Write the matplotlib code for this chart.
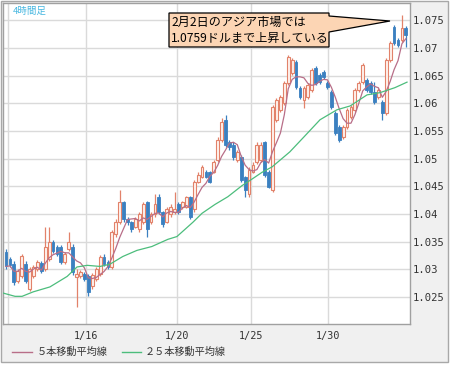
import matplotlib
matplotlib.use('Agg')
import matplotlib.pyplot as plt
import numpy as np
import pandas as pd
from matplotlib.patches import Rectangle, Polygon
from matplotlib.lines import Line2D

# ---------------- data (EUR/USD 4h candles) ----------------
opens = [1.0331, 1.0318, 1.0309, 1.0278, 1.0287, 1.0309, 1.0264, 1.0287, 1.0300, 1.0311,
         1.0300, 1.0318, 1.0349, 1.0340, 1.0340, 1.0313, 1.0336, 1.0341, 1.0286, 1.0287,
         1.0291, 1.0287, 1.0269, 1.0282, 1.0291, 1.0322, 1.0313, 1.0304, 1.0363, 1.0385,
         1.0421, 1.0390, 1.0385, 1.0377, 1.0372, 1.0385, 1.0421, 1.0385, 1.0399, 1.0431,
         1.0403, 1.0386, 1.0399, 1.0403, 1.0417, 1.0412, 1.0413, 1.0430, 1.0408, 1.0458,
         1.0467, 1.0476, 1.0475, 1.0476, 1.0498, 1.0534, 1.0570, 1.0530, 1.0525, 1.0498,
         1.0503, 1.0466, 1.0435, 1.0476, 1.0494, 1.0498, 1.0529, 1.0476, 1.0444, 1.0570,
         1.0588, 1.0601, 1.0637, 1.0655, 1.0674, 1.0628, 1.0606, 1.0611, 1.0624, 1.0664,
         1.0651, 1.0656, 1.0637, 1.0620, 1.0583, 1.0557, 1.0539, 1.0557, 1.0575, 1.0588,
         1.0624, 1.0638, 1.0642, 1.0637, 1.0620, 1.0611, 1.0602, 1.0583, 1.0678, 1.0737,
         1.0714, 1.0714, 1.0736]
highs = [1.0336, 1.0322, 1.0314, 1.0300, 1.0327, 1.0314, 1.0304, 1.0307, 1.0316, 1.0314,
         1.0376, 1.0376, 1.0352, 1.0343, 1.0343, 1.0331, 1.0367, 1.0345, 1.0300, 1.0298,
         1.0295, 1.0291, 1.0293, 1.0304, 1.0325, 1.0327, 1.0316, 1.0370, 1.0390, 1.0444,
         1.0424, 1.0394, 1.0388, 1.0394, 1.0403, 1.0421, 1.0424, 1.0403, 1.0435, 1.0435,
         1.0406, 1.0412, 1.0417, 1.0439, 1.0421, 1.0424, 1.0433, 1.0433, 1.0462, 1.0475,
         1.0489, 1.0480, 1.0478, 1.0498, 1.0538, 1.0574, 1.0579, 1.0534, 1.0529, 1.0516,
         1.0507, 1.0469, 1.0484, 1.0493, 1.0529, 1.0529, 1.0532, 1.0480, 1.0597, 1.0610,
         1.0615, 1.0640, 1.0687, 1.0682, 1.0678, 1.0631, 1.0631, 1.0637, 1.0664, 1.0667,
         1.0655, 1.0660, 1.0640, 1.0624, 1.0586, 1.0561, 1.0561, 1.0592, 1.0597, 1.0628,
         1.0640, 1.0673, 1.0646, 1.0640, 1.0638, 1.0628, 1.0606, 1.0682, 1.0712, 1.0741,
         1.0718, 1.0759, 1.0739]
lows = [1.0300, 1.0304, 1.0271, 1.0275, 1.0284, 1.0275, 1.0260, 1.0284, 1.0296, 1.0293,
        1.0296, 1.0314, 1.0329, 1.0323, 1.0309, 1.0309, 1.0332, 1.0289, 1.0232, 1.0284,
        1.0278, 1.0251, 1.0264, 1.0278, 1.0287, 1.0305, 1.0300, 1.0300, 1.0359, 1.0381,
        1.0386, 1.0379, 1.0367, 1.0374, 1.0368, 1.0381, 1.0358, 1.0381, 1.0395, 1.0399,
        1.0377, 1.0383, 1.0395, 1.0399, 1.0399, 1.0408, 1.0410, 1.0390, 1.0404, 1.0455,
        1.0464, 1.0464, 1.0455, 1.0473, 1.0494, 1.0530, 1.0521, 1.0516, 1.0498, 1.0494,
        1.0458, 1.0430, 1.0431, 1.0473, 1.0491, 1.0494, 1.0467, 1.0446, 1.0440, 1.0566,
        1.0584, 1.0597, 1.0633, 1.0651, 1.0626, 1.0608, 1.0592, 1.0608, 1.0620, 1.0633,
        1.0635, 1.0644, 1.0626, 1.0590, 1.0543, 1.0529, 1.0536, 1.0554, 1.0572, 1.0584,
        1.0620, 1.0635, 1.0620, 1.0617, 1.0599, 1.0608, 1.0570, 1.0579, 1.0674, 1.0705,
        1.0701, 1.0710, 1.0701]
closes = [1.0305, 1.0307, 1.0277, 1.0296, 1.0323, 1.0278, 1.0300, 1.0304, 1.0313, 1.0296,
          1.0341, 1.0349, 1.0332, 1.0327, 1.0313, 1.0327, 1.0349, 1.0295, 1.0291, 1.0295,
          1.0282, 1.0259, 1.0289, 1.0300, 1.0322, 1.0309, 1.0304, 1.0367, 1.0386, 1.0421,
          1.0390, 1.0385, 1.0372, 1.0390, 1.0399, 1.0417, 1.0372, 1.0399, 1.0417, 1.0403,
          1.0381, 1.0408, 1.0413, 1.0408, 1.0403, 1.0421, 1.0430, 1.0395, 1.0458, 1.0471,
          1.0485, 1.0467, 1.0458, 1.0494, 1.0534, 1.0566, 1.0525, 1.0520, 1.0502, 1.0512,
          1.0462, 1.0444, 1.0480, 1.0489, 1.0525, 1.0525, 1.0471, 1.0449, 1.0593, 1.0606,
          1.0611, 1.0637, 1.0683, 1.0678, 1.0629, 1.0611, 1.0628, 1.0633, 1.0660, 1.0637,
          1.0638, 1.0647, 1.0629, 1.0593, 1.0547, 1.0534, 1.0557, 1.0588, 1.0593, 1.0624,
          1.0637, 1.0669, 1.0624, 1.0620, 1.0602, 1.0624, 1.0583, 1.0678, 1.0709, 1.0709,
          1.0705, 1.0736, 1.0723]

# 25-period moving average (candle index, value)
ma25_pos = [-0.8, 2.3, 4.1, 6.9, 11.2, 15.6, 18.1, 20.7, 24.0, 26.5, 29.8, 33.4, 37.2,
            41.3, 43.6, 47.7, 50.0, 53.3, 56.6, 60.2, 63.0, 65.3, 67.9, 72.4, 76.0,
            80.1, 84.4, 87.8, 92.1, 95.4, 99.2, 102.3]
ma25_val = [1.0257, 1.0251, 1.0251, 1.0259, 1.0268, 1.0287, 1.0304, 1.0307, 1.0305,
            1.0309, 1.0323, 1.0334, 1.0341, 1.0354, 1.0359, 1.0385, 1.0401, 1.0417,
            1.0431, 1.0451, 1.0464, 1.0475, 1.0485, 1.0512, 1.0539, 1.0570, 1.0588,
            1.0595, 1.0615, 1.0619, 1.0628, 1.0638]

xtick_pos = [0.51, 20.4, 43.6, 62.5, 82.1]
xtick_labels = ['', '1/16', '1/20', '1/25', '1/30']
ytick_vals = [1.025, 1.03, 1.035, 1.04, 1.045, 1.05, 1.055, 1.06, 1.065, 1.07, 1.075]
ytick_labels = ['1.025', '1.03', '1.035', '1.04', '1.045', '1.05', '1.055',
                '1.06', '1.065', '1.07', '1.075']

title_text = '4時間足'
note_lines = ['2月2日のアジア市場では', '1.0759ドルまで上昇している']
legend_labels = ['５本移動平均線', '２５本移動平均線']

# ---------------- styling ----------------
JP = ['Noto Sans CJK JP', 'DejaVu Sans']
UP = '#e2826a'
DOWN = '#3b80c0'
MA5C = '#b86e88'
MA25C = '#4cbd7c'
W, H = 454, 369

fig = plt.figure(figsize=(W / 100, H / 100), dpi=100)
fig.patch.set_facecolor('white')

def fx(x):
    return x / W

def fy(y):
    return 1 - y / H

panel = Rectangle((fx(1), fy(362)), fx(447), 361 / H, transform=fig.transFigure,
                  facecolor='#f0f0f0', edgecolor='#a8a8a8', linewidth=1.0, zorder=-5)
fig.add_artist(panel)

ax = fig.add_axes([fx(3), fy(324), 407 / W, 321 / H])
ax.set_facecolor('white')
ax.set_xlim(-0.77, 103.06)
ax.set_ylim(1.0201, 1.0781)

# grid
for v in ytick_vals:
    ax.axhline(v, color='#dadada', lw=1.0, zorder=0)
for p in xtick_pos:
    ax.axvline(p, color='#dadada', lw=1.0, zorder=0)

idx = np.arange(len(closes))
o = np.array(opens); h = np.array(highs); l = np.array(lows); c = np.array(closes)
up = c >= o
bw = 0.72

# wicks
ax.vlines(idx[up], l[up], h[up], color=UP, lw=0.9, zorder=2)
ax.vlines(idx[~up], l[~up], h[~up], color=DOWN, lw=0.9, zorder=2)
# bodies
ax.bar(idx[up], np.maximum(c[up] - o[up], 0.00005), bottom=o[up], width=bw,
       facecolor='#fff3ee', edgecolor=UP, linewidth=0.8, zorder=3)
ax.bar(idx[~up], np.maximum(o[~up] - c[~up], 0.00005), bottom=c[~up], width=bw,
       facecolor=DOWN, edgecolor=DOWN, linewidth=0.6, zorder=3)

# moving averages
ma5 = pd.Series(closes).rolling(5, min_periods=1).mean()
ax.plot(idx, ma5, color=MA5C, lw=0.9, zorder=4)
ax.plot(ma25_pos, ma25_val, color=MA25C, lw=0.9, zorder=4)

# axes style
for s in ax.spines.values():
    s.set_color('#a0a0a0')
    s.set_linewidth(1.0)
ax.yaxis.tick_right()
ax.set_yticks(ytick_vals)
ax.set_yticklabels(ytick_labels, family='DejaVu Sans Mono', fontsize=7.6, color='#333333')
ax.set_xticks(xtick_pos)
ax.set_xticklabels(xtick_labels, family='DejaVu Sans Mono', fontsize=7.3, color='#333333')
ax.tick_params(axis='y', length=0, pad=2)
ax.tick_params(axis='x', length=0, pad=5)

# title inside the plot
fig.text(fx(13), fy(11), title_text, family=JP, fontsize=6.8, color='#45b6e0',
         va='center', ha='left')

# callout box
callout = Polygon([(fx(169), fy(13)), (fx(329), fy(13)), (fx(329), fy(16)),
                   (fx(390), fy(21)), (fx(329), fy(32)), (fx(329), fy(47)),
                   (fx(169), fy(47))], closed=True, transform=fig.transFigure,
                  facecolor='#fcd5b4', edgecolor='black', linewidth=0.9, zorder=10)
fig.add_artist(callout)
fig.text(fx(171), fy(22.5), note_lines[0], family=JP, fontsize=8.7, color='black',
         va='center', ha='left', zorder=11)
fig.text(fx(171), fy(38.5), note_lines[1], family=JP, fontsize=8.7, color='black',
         va='center', ha='left', zorder=11)

# legend
fig.add_artist(Line2D([fx(12), fx(32)], [fy(352), fy(352)], color=MA5C, lw=1.0,
                      transform=fig.transFigure))
fig.text(fx(37), fy(352), legend_labels[0], family=JP, fontsize=7.3, color='#333333',
         va='center', ha='left')
fig.add_artist(Line2D([fx(122), fx(141)], [fy(352), fy(352)], color=MA25C, lw=1.0,
                      transform=fig.transFigure))
fig.text(fx(145), fy(352), legend_labels[1], family=JP, fontsize=7.3, color='#333333',
         va='center', ha='left')

fig.savefig('out.png', dpi=100, facecolor=fig.get_facecolor())
